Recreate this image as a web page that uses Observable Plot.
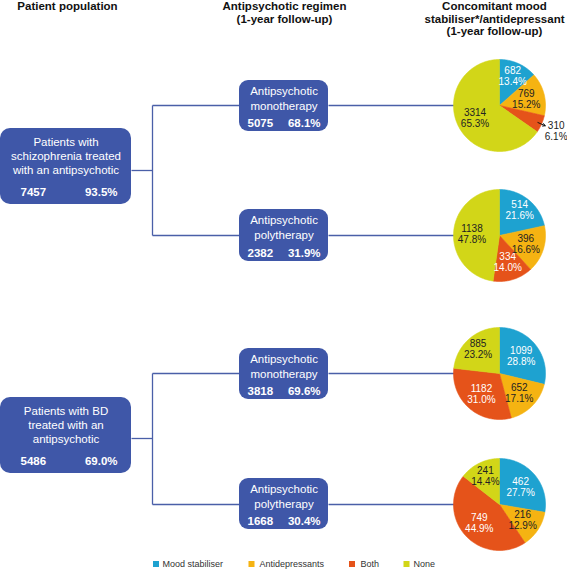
<!DOCTYPE html>
<html><head><meta charset="utf-8">
<script src="https://cdn.jsdelivr.net/npm/d3@7"></script>
<script src="https://cdn.jsdelivr.net/npm/@observablehq/plot@0.6"></script>
<style>html,body{margin:0;padding:0;background:#fff}#chart svg{display:block}</style>
</head><body><div id="chart"></div>
<script>
// ---------- data ----------
const headers = ["Patient population", "Antipsychotic regimen\n(1-year follow-up)", "Concomitant mood\nstabiliser*/antidepressant\n(1-year follow-up)"];
const populations = ["Patients with\nschizophrenia treated\nwith an antipsychotic", "Patients with BD\ntreated with an\nantipsychotic"];
const populationN = [7457, 5486];
const populationPct = ["93.5%", "69.0%"];
const regimens = ["Antipsychotic\nmonotherapy", "Antipsychotic\npolytherapy", "Antipsychotic\nmonotherapy", "Antipsychotic\npolytherapy"];
const regimenN = [5075, 2382, 3818, 1668];
const regimenPct = ["68.1%", "31.9%", "69.6%", "30.4%"];
const categories = ["Mood stabiliser", "Antidepressants", "Both", "None"];
const colors = ["#1ea2d0", "#f5b312", "#e5531a", "#d2d618"];
const pieCounts = [[682, 769, 310, 3314], [514, 396, 334, 1138], [1099, 652, 1182, 885], [462, 216, 749, 241]];
const piePct = [["13.4%", "15.2%", "6.1%", "65.3%"], ["21.6%", "16.6%", "14.0%", "47.8%"], ["28.8%", "17.1%", "31.0%", "23.2%"], ["27.7%", "12.9%", "44.9%", "14.4%"]];

// ---------- layout ----------
const W = 567, H = 570;
const FONT = "'Liberation Sans', Arial, Helvetica, sans-serif";
const BOX = "#3f57a8", LINE = "#4a5fa8";
const popLayout = [{x1: 0, x2: 131, y1: 128, y2: 204, joinY: 170}, {x1: 0, x2: 131, y1: 397, y2: 473, joinY: 438}];
const regX1 = 239, regX2 = 328, trunkX = 152;
const regLayout = [{y1: 80, y2: 131, joinY: 105}, {y1: 209, y2: 261, joinY: 235}, {y1: 348, y2: 399, joinY: 373}, {y1: 478, y2: 529, joinY: 504}];
const pieCX = 499, pieR = 46;
const headerX = [67, 284, 494];
const legendSwatchX = [155.5, 251, 351.5, 406];
const legendTextX = [162, 259, 360, 413];
const legendY = 563.5;

// ---------- derived tables ----------
const popBoxes = populations.map((t, i) => ({...popLayout[i], text: t, n: String(populationN[i]), pct: populationPct[i]}));
const regBoxes = regimens.map((t, i) => ({...regLayout[i], x1: regX1, x2: regX2, text: t, n: String(regimenN[i]), pct: regimenPct[i]}));

const links = [];
popBoxes.forEach((b, i) => {
  const a = regBoxes[2 * i], c = regBoxes[2 * i + 1];
  links.push({x1: b.x2, y1: b.joinY, x2: trunkX, y2: b.joinY});
  links.push({x1: trunkX, y1: a.joinY, x2: trunkX, y2: c.joinY});
  links.push({x1: trunkX, y1: a.joinY, x2: regX1, y2: a.joinY});
  links.push({x1: trunkX, y1: c.joinY, x2: regX1, y2: c.joinY});
});
regBoxes.forEach(r => links.push({x1: regX2, y1: r.joinY, x2: pieCX - pieR + 1, y2: r.joinY}));

const slicePts = [], labels = [], leaders = [];
pieCounts.forEach((counts, p) => {
  const cx = pieCX, cy = regBoxes[p].joinY;
  const arcs = d3.pie().sort(null).value(d => d)(counts);
  arcs.forEach((a, i) => {
    const key = p + "-" + i, cat = categories[i];
    const steps = Math.max(2, Math.ceil((a.endAngle - a.startAngle) / 0.02));
    slicePts.push({key, cat, x: cx, y: cy});
    for (let k = 0; k <= steps; k++) {
      const t = a.startAngle + (a.endAngle - a.startAngle) * k / steps;
      slicePts.push({key, cat, x: cx + pieR * Math.sin(t), y: cy - pieR * Math.cos(t)});
    }
    slicePts.push({key, cat, x: cx, y: cy});
    const mid = (a.startAngle + a.endAngle) / 2;
    const share = counts[i] / d3.sum(counts);
    const outside = share < 0.08;
    const lr = outside ? pieR + 16 : pieR * (Math.cos(mid) > 0.7 ? 0.7 : 0.6);
    labels.push({x: cx + lr * Math.sin(mid), y: cy - lr * Math.cos(mid), text: counts[i] + "\n" + piePct[p][i],
      light: !outside && (i === 0 || i === 2)});
    if (outside) leaders.push({x1: cx + (pieR - 4) * Math.sin(mid), y1: cy - (pieR - 4) * Math.cos(mid),
      x2: cx + (pieR + 4) * Math.sin(mid), y2: cy - (pieR + 4) * Math.cos(mid)});
  });
});

const headerRows = headers.map((t, i) => ({x: headerX[i], y: 1, text: t}));
const legendRows = categories.map((c, i) => ({cat: c, sx: legendSwatchX[i], tx: legendTextX[i], y: legendY}));

const txt = {fontFamily: FONT};
const chart = Plot.plot({
  width: W, height: H, margin: 0,
  style: {fontFamily: FONT, background: "#fff"},
  x: {domain: [0, W], range: [0, W], axis: null},
  y: {domain: [0, H], range: [0, H], axis: null},
  color: {type: "ordinal", domain: categories, range: colors},
  marks: [
    Plot.link(links, {x1: "x1", y1: "y1", x2: "x2", y2: "y2", stroke: LINE, strokeWidth: 1.3}),
    Plot.rect(popBoxes, {x1: "x1", x2: "x2", y1: "y1", y2: "y2", fill: BOX, rx: 10}),
    Plot.rect(regBoxes, {x1: "x1", x2: "x2", y1: "y1", y2: "y2", fill: BOX, rx: 9}),
    Plot.text(popBoxes, {x: d => (d.x1 + d.x2) / 2, y: d => d.y1 + 27, text: "text", fill: "white", fontSize: 11.5, lineHeight: 1.19, ...txt}),
    Plot.text(popBoxes, {x: d => d.x1 + 20, y: d => d.y2 - 12, text: "n", fill: "white", fontSize: 11.5, fontWeight: "bold", textAnchor: "start", ...txt}),
    Plot.text(popBoxes, {x: d => d.x2 - 14, y: d => d.y2 - 12, text: "pct", fill: "white", fontSize: 11.5, fontWeight: "bold", textAnchor: "end", ...txt}),
    Plot.text(regBoxes, {x: d => (d.x1 + d.x2) / 2, y: d => d.y1 + 17.5, text: "text", fill: "white", fontSize: 11.5, lineHeight: 1.22, ...txt}),
    Plot.text(regBoxes, {x: d => d.x1 + 8, y: d => d.y2 - 8, text: "n", fill: "white", fontSize: 11.5, fontWeight: "bold", textAnchor: "start", ...txt}),
    Plot.text(regBoxes, {x: d => d.x2 - 8, y: d => d.y2 - 8, text: "pct", fill: "white", fontSize: 11.5, fontWeight: "bold", textAnchor: "end", ...txt}),
    Plot.line(slicePts, {x: "x", y: "y", z: "key", fill: "cat", stroke: "cat", strokeWidth: 0.6}),
    Plot.arrow(leaders, {x1: "x1", y1: "y1", x2: "x2", y2: "y2", stroke: "#111", strokeWidth: 1, headLength: 4}),
    Plot.text(labels.filter(d => d.light), {x: "x", y: "y", text: "text", fill: "white", fontSize: 10, lineHeight: 1.1, ...txt}),
    Plot.text(labels.filter(d => !d.light), {x: "x", y: "y", text: "text", fill: "#222", fontSize: 10, lineHeight: 1.1, ...txt}),
    Plot.text(headerRows, {x: "x", y: "y", text: "text", fill: "#111", fontSize: 11.5, fontWeight: "bold", lineAnchor: "top", lineHeight: 1.08, ...txt}),
    Plot.dot(legendRows, {x: "sx", y: "y", fill: "cat", symbol: "square", r: 3.4}),
    Plot.text(legendRows, {x: "tx", y: "y", text: "cat", fill: "#333", fontSize: 9, textAnchor: "start", ...txt})
  ]
});
document.getElementById("chart").appendChild(chart);
</script>
</body></html>
